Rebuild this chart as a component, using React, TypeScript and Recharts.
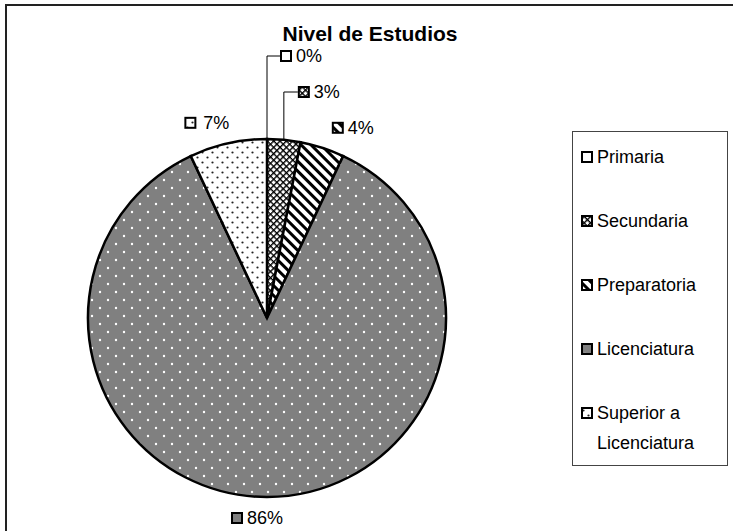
import React from 'react';
import { PieChart, Pie, Cell, Legend } from 'recharts';

// Nivel de estudios, share of respondents (%)
const categories = ['Primaria', 'Secundaria', 'Preparatoria', 'Licenciatura', 'Superior a Licenciatura'];
const shares = [0, 3, 4, 86, 7];
const legendLines = [['Primaria'], ['Secundaria'], ['Preparatoria'], ['Licenciatura'], ['Superior a', 'Licenciatura']];

const fills = ['url(#patPrimaria)', 'url(#patSecundaria)', 'url(#patPreparatoria)', 'url(#patLicenciatura)', 'url(#patSuperior)'];

const font = "Arial, 'Liberation Sans', sans-serif";
const RADIAN = Math.PI / 180;

// how far from the centre each label sits; the first two are lifted on leader lines
const labelReach = [262, 226, 200, 200, 200];
const leaderRun = [13, 14, 0, 0, 0];

const pieData = categories.map((name, i) => ({ name, value: shares[i] }));

const Swatch = ({ x, y, fill }: { x: number; y: number; fill: string }) => (
  <rect x={x} y={y} width={10} height={10} fill={fill} stroke="#000" strokeWidth={2} />
);

const renderLabel = (props: any) => {
  const { cx, cy, midAngle, outerRadius, index, value } = props;
  const cos = Math.cos(-midAngle * RADIAN);
  const sin = Math.sin(-midAngle * RADIAN);
  const text = `${value}%`;
  const reach = labelReach[index];

  if (leaderRun[index] > 0) {
    const ax = cx + outerRadius * cos;
    const ay = cy + outerRadius * sin;
    const ly = cy - reach;
    const lx = ax + leaderRun[index];
    return (
      <g>
        <polyline points={`${ax},${ay} ${ax},${ly} ${lx},${ly}`} fill="none" stroke="#000" strokeWidth={1} />
        <Swatch x={lx + 1} y={ly - 5} fill={fills[index]} />
        <text x={lx + 16} y={ly} dominantBaseline="central" fontFamily={font} fontSize={18} fill="#000">{text}</text>
      </g>
    );
  }

  const px = cx + reach * cos;
  const py = cy + reach * sin;
  if (cos > 0.2) {
    return (
      <g>
        <Swatch x={px + 4} y={py - 5} fill={fills[index]} />
        <text x={px + 19} y={py} dominantBaseline="central" fontFamily={font} fontSize={18} fill="#000">{text}</text>
      </g>
    );
  }
  if (cos < -0.2) {
    return (
      <g>
        <Swatch x={px - 38} y={py - 5} fill={fills[index]} />
        <text x={px + 6} y={py} textAnchor="end" dominantBaseline="central" fontFamily={font} fontSize={18} fill="#000">{text}</text>
      </g>
    );
  }
  return (
    <g>
      <Swatch x={px - 35} y={py - 5} fill={fills[index]} />
      <text x={px - 20} y={py} dominantBaseline="central" fontFamily={font} fontSize={18} fill="#000">{text}</text>
    </g>
  );
};

const LegendBox = () => (
  <div style={{ position: 'relative', width: 156, height: 335, border: '1px solid #444', boxSizing: 'border-box', background: '#fff', fontFamily: font, fontSize: 18, color: '#000' }}>
    {legendLines.map((lines, i) => (
      <div key={categories[i]} style={{ position: 'absolute', left: 8, top: 10 + i * 64, display: 'flex', alignItems: 'flex-start' }}>
        <svg width={14} height={30} style={{ flex: 'none' }}>
          <Swatch x={1} y={10} fill={fills[i]} />
        </svg>
        <div style={{ marginLeft: 2, lineHeight: '30px' }}>
          {lines.map((l) => (
            <div key={l}>{l}</div>
          ))}
        </div>
      </div>
    ))}
  </div>
);

export default function App() {
  return (
    <div style={{ position: 'absolute', left: 0, top: 0, width: 733, height: 531, overflow: 'hidden', background: '#fff' }}>
      <svg width={0} height={0} style={{ position: 'absolute' }}>
        <defs>
          <pattern id="patPrimaria" width={4} height={4} patternUnits="userSpaceOnUse">
            <rect width={4} height={4} fill="#fff" />
          </pattern>
          <pattern id="patSecundaria" width={4.5} height={4.5} patternUnits="userSpaceOnUse" patternTransform="rotate(45)">
            <rect width={4.5} height={4.5} fill="#fff" />
            <path d="M0 0H4.5M0 0V4.5" stroke="#000" strokeWidth={2.8} />
          </pattern>
          <pattern id="patPreparatoria" width={7} height={7} patternUnits="userSpaceOnUse" patternTransform="rotate(45)">
            <rect width={7} height={7} fill="#fff" />
            <line x1={0} y1={1.5} x2={7} y2={1.5} stroke="#000" strokeWidth={3} />
          </pattern>
          <pattern id="patLicenciatura" width={16} height={16} patternUnits="userSpaceOnUse">
            <rect width={16} height={16} fill="#808080" />
            <circle cx={4} cy={4} r={1.2} fill="#fff" />
            <circle cx={12} cy={12} r={1.2} fill="#fff" />
          </pattern>
          <pattern id="patSuperior" width={10} height={10} patternUnits="userSpaceOnUse">
            <rect width={10} height={10} fill="#fff" />
            <circle cx={2.5} cy={2.5} r={1.1} fill="#222" />
            <circle cx={7.5} cy={7.5} r={1.1} fill="#222" />
          </pattern>
        </defs>
      </svg>

      {/* chart frame, its right and bottom edges run past the page */}
      <div style={{ position: 'absolute', left: 5, top: 4, width: 760, height: 560, border: '2px solid #222', boxSizing: 'border-box' }} />

      <div style={{ position: 'absolute', left: 0, top: 0 }}>
        <PieChart width={733} height={531}>
          <text x={370} y={33} textAnchor="middle" dominantBaseline="central" fontFamily={font} fontSize={21} fontWeight="bold" fill="#000">
            Nivel de Estudios
          </text>
          <Pie
            data={pieData}
            dataKey="value"
            nameKey="name"
            cx={262}
            cy={313}
            outerRadius={179}
            startAngle={90}
            endAngle={-270}
            stroke="#000"
            strokeWidth={2.5}
            label={renderLabel}
            labelLine={false}
            isAnimationActive={false}
          >
            {pieData.map((d, i) => (
              <Cell key={d.name} fill={fills[i]} />
            ))}
          </Pie>
          <Legend
            layout="vertical"
            content={() => <LegendBox />}
            wrapperStyle={{ position: 'absolute', left: 572, top: 131, width: 156, height: 335 }}
          />
        </PieChart>
      </div>
    </div>
  );
}
